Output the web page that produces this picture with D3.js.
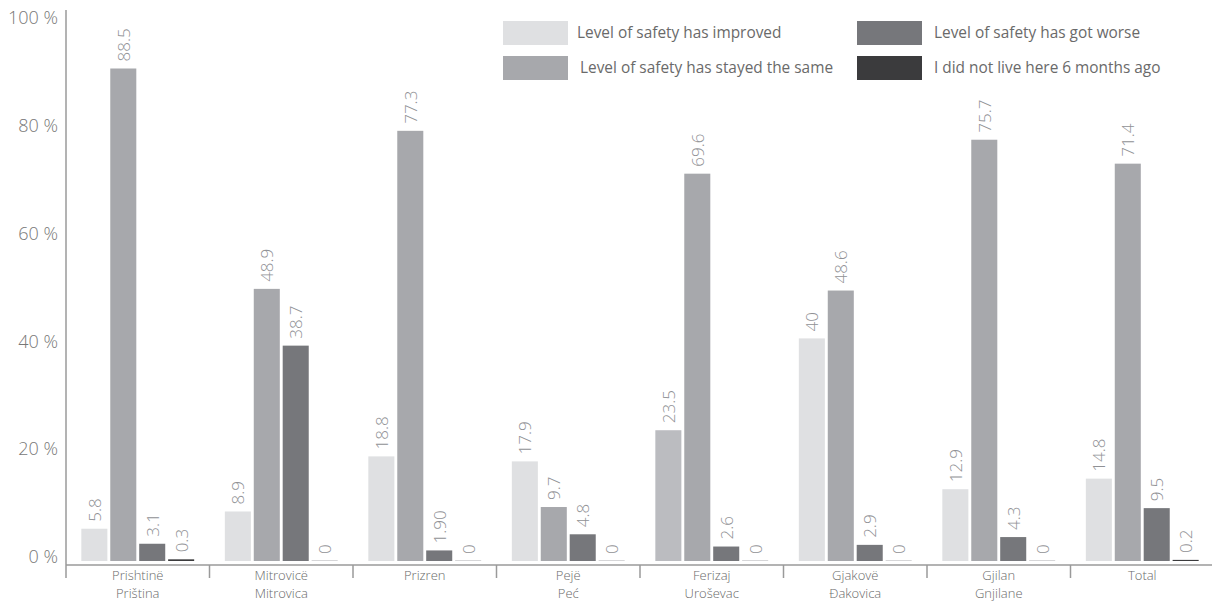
<!DOCTYPE html>
<html>
<head>
<meta charset="utf-8">
<script src="https://cdn.jsdelivr.net/npm/d3@7"></script>
<style>
  html, body { margin: 0; padding: 0; background: #fff; }
  svg { display: block; font-family: "Open Sans", "Noto Sans", sans-serif; }
</style>
</head>
<body>
<svg id="chart" width="1212" height="601"></svg>
<script>
// Regions (two-line labels: Albanian / Serbian names)
const regions = [
  ["Prishtinë", "Priština"],
  ["Mitrovicë", "Mitrovica"],
  ["Prizren"],
  ["Pejë", "Peć"],
  ["Ferizaj", "Uroševac"],
  ["Gjakovë", "Đakovica"],
  ["Gjilan", "Gnjilane"],
  ["Total"]
];

const seriesNames = [
  "Level of safety has improved",
  "Level of safety has stayed the same",
  "Level of safety has got worse",
  "I did not live here 6 months ago"
];

// Share of respondents (%) per region, one array per answer
const improved   = [5.8, 8.9, 18.8, 17.9, 23.5, 40, 12.9, 14.8];
const stayedSame = [88.5, 48.9, 77.3, 9.7, 69.6, 48.6, 75.7, 71.4];
const gotWorse   = [3.1, 38.7, 1.9, 4.8, 2.6, 2.9, 4.3, 9.5];
const notLived   = [0.3, 0, 0, 0, 0, 0, 0, 0.2];

// Printed value labels (as shown above each bar)
const improvedLabels   = ["5.8", "8.9", "18.8", "17.9", "23.5", "40", "12.9", "14.8"];
const stayedSameLabels = ["88.5", "48.9", "77.3", "9.7", "69.6", "48.6", "75.7", "71.4"];
const gotWorseLabels   = ["3.1", "38.7", "1.90", "4.8", "2.6", "2.9", "4.3", "9.5"];
const notLivedLabels   = ["0.3", "0", "0", "0", "0", "0", "0", "0.2"];

const yTicks = [0, 20, 40, 60, 80, 100];

// ---- styling ----
const colors = ["#dfe0e2", "#a7a8ac", "#76777b", "#3b3b3d"];
const ferizajImprovedColor = "#bbbcc0";
const zeroColor = "#d6d6d8";

const seriesValues = [improved, stayedSame, gotWorse, notLived];
const seriesLabels = [improvedLabels, stayedSameLabels, gotWorseLabels, notLivedLabels];

const svg = d3.select("#chart");

const x0 = d3.scaleBand()
  .domain(d3.range(regions.length))
  .range([66, 1214]);

const x1 = d3.scaleBand()
  .domain(d3.range(seriesNames.length))
  .range([0, x0.bandwidth()])
  .paddingInner(0.1)
  .paddingOuter(0.53);

// Scale for the bars
const y = d3.scaleLinear().domain([0, 100]).range([561, 4.5]);
// Scale used for placing the percentage labels on the vertical axis
const yLab = d3.scaleLinear().domain([0, 100]).range([557, 18]);

// rows of data: one record per bar
const rows = [];
regions.forEach((r, i) => {
  seriesValues.forEach((vals, s) => {
    rows.push({ region: i, series: s, value: vals[i], label: seriesLabels[s][i] });
  });
});

const g = svg.append("g");

// bars
g.selectAll("rect.bar")
  .data(rows.filter(d => d.value > 0))
  .join("rect")
  .attr("class", "bar")
  .attr("x", d => x0(d.region) + x1(d.series))
  .attr("width", x1.bandwidth())
  .attr("y", d => y(d.value))
  .attr("height", d => y(0) - y(d.value))
  .attr("fill", d => (d.region === 4 && d.series === 0) ? ferizajImprovedColor : colors[d.series]);

// zero-value bars shown as a hairline on the baseline
g.selectAll("rect.zero")
  .data(rows.filter(d => d.value === 0))
  .join("rect")
  .attr("class", "zero")
  .attr("x", d => x0(d.region) + x1(d.series))
  .attr("width", x1.bandwidth())
  .attr("y", y(0) - 1)
  .attr("height", 1)
  .attr("fill", zeroColor);

// value labels (rotated, above bars)
g.selectAll("text.val")
  .data(rows)
  .join("text")
  .attr("class", "val")
  .attr("transform", d => {
    const cx = x0(d.region) + x1(d.series) + x1.bandwidth() / 2;
    return `translate(${cx + 6.5},${y(d.value) - 7}) rotate(-90)`;
  })
  .attr("text-anchor", "start")
  .attr("font-size", 17)
  .attr("font-weight", 300)
  .attr("fill", "#909195")
  .text(d => d.label);

// vertical axis line
svg.append("line")
  .attr("x1", 66).attr("x2", 66)
  .attr("y1", 10).attr("y2", 578)
  .attr("stroke", "#9a9a9a").attr("stroke-width", 1.5);

// horizontal axis line
svg.append("line")
  .attr("x1", 66).attr("x2", 1212)
  .attr("y1", 565).attr("y2", 565)
  .attr("stroke", "#9a9a9a").attr("stroke-width", 1.5);

// category separators
svg.selectAll("line.sep")
  .data(d3.range(1, regions.length))
  .join("line")
  .attr("class", "sep")
  .attr("x1", d => x0(d)).attr("x2", d => x0(d))
  .attr("y1", 565).attr("y2", 578)
  .attr("stroke", "#9a9a9a").attr("stroke-width", 1.5);

// y-axis labels
const yAxis = d3.axisLeft(yLab)
  .tickValues(yTicks)
  .tickSize(0)
  .tickPadding(0)
  .tickFormat(d => d + " %");
const ya = svg.append("g").attr("transform", "translate(58,0)").call(yAxis);
ya.select(".domain").remove();
ya.selectAll("text")
  .attr("font-family", "'Open Sans', 'Noto Sans', sans-serif")
  .attr("font-size", 18)
  .attr("font-weight", 300)
  .attr("fill", "#777777");

// category labels, one text element per line
const catLines = [];
regions.forEach((lines, i) => lines.forEach((ln, k) => catLines.push({ i, k, ln })));
svg.selectAll("text.cat")
  .data(catLines)
  .join("text")
  .attr("class", "cat")
  .attr("text-anchor", "middle")
  .attr("x", d => x0(d.i) + x0.bandwidth() / 2)
  .attr("y", d => 579.5 + d.k * 18)
  .attr("font-size", 13)
  .attr("font-weight", 300)
  .attr("fill", "#6a6a6a")
  .text(d => d.ln);

// legend
const legendPos = [
  { x: 503, y: 21, tx: 577 },
  { x: 503, y: 56, tx: 580 },
  { x: 857, y: 21, tx: 934 },
  { x: 857, y: 56, tx: 934 }
];
const lg = svg.selectAll("g.leg")
  .data(seriesNames)
  .join("g")
  .attr("class", "leg");
lg.append("rect")
  .attr("x", (d, i) => legendPos[i].x)
  .attr("y", (d, i) => legendPos[i].y)
  .attr("width", 65)
  .attr("height", 24)
  .attr("fill", (d, i) => colors[i]);
lg.append("text")
  .attr("x", (d, i) => legendPos[i].tx)
  .attr("y", (d, i) => legendPos[i].y + 12)
  .attr("dy", "0.35em")
  .attr("font-size", 15.4)
  .attr("font-weight", 400)
  .attr("fill", "#6a6a6a")
  .text(d => d);
</script>
</body>
</html>
